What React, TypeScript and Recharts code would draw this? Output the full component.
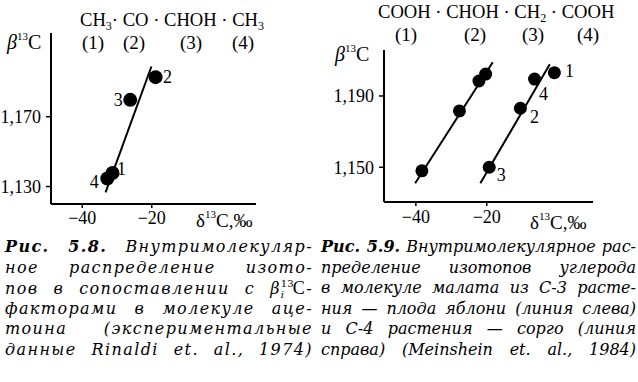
import React from "react"
import { ScatterChart, Scatter, XAxis, YAxis } from "recharts"

const serif = '"Liberation Serif", "DejaVu Serif", serif'
const captionFont = '"DejaVu Serif", "Liberation Serif", serif'

// positions of the carbon atoms in the molecule
const positions = ["1", "2", "3", "4"]
const positionLabels = ["(1)", "(2)", "(3)", "(4)"]

// Fig. 5.8 — acetoin
const acetoinDelta = [-31.3, -18.9, -26.2, -32.8]
const acetoinBeta = [1.1378, 1.1927, 1.1797, 1.1346]
const acetoinFitDelta = [-33.3, -20.1]
const acetoinFitBeta = [1.1267, 1.1988]

// Fig. 5.9 — malate, C-3 plant (apple, left line)
const appleDelta = [-38.3, -27.7, -22.2, -20.3]
const appleBeta = [1.148, 1.1816, 1.1984, 1.2023]
const appleFitDelta = [-40.2, -18.3]
const appleFitBeta = [1.141, 1.2089]

// Fig. 5.9 — malate, C-4 plant (sorghum, right line)
const sorghumDelta = [-0.9, -10.5, -19.3, -6.5]
const sorghumBeta = [1.2031, 1.1831, 1.15, 1.1995]
const sorghumFitDelta = [-21.8, -2.2]
const sorghumFitBeta = [1.141, 1.2078]

const xTicks = [-40, -20]
const acetoinTicks = [1.13, 1.17]
const malateTicks = [1.15, 1.19]

const toPoints = (xs: number[], ys: number[], names?: string[]) =>
  xs.map((x, i) => ({ x, y: ys[i], name: names ? names[i] : "" }))

const fmtX = (v: number) => (v < 0 ? "\u2212" + Math.abs(v) : String(v))
const fmtY = (v: number) => v.toFixed(3).replace(".", ",")

const acetoinOffsets: Record<string, number[]> = { "1": [9, -4], "2": [12, 0], "3": [-12, 0], "4": [-13, 3] }
const sorghumOffsets: Record<string, number[]> = { "1": [15, -2], "2": [14, 8], "3": [12, 7], "4": [9, 15] }

const makeDot = (r: number, offsets?: Record<string, number[]>) => (props: any) => {
  const { cx, cy, payload } = props
  const off = offsets ? offsets[payload.name] : null
  return (
    <g>
      <circle cx={cx} cy={cy} r={r} fill="#000" />
      {off && (
        <text x={cx + off[0]} y={cy + off[1]} dy="0.35em" textAnchor="middle" fontSize={18} fontFamily={serif} fill="#000">
          {payload.name}
        </text>
      )}
    </g>
  )
}

const noDot = () => <g />

const axisLine = { stroke: "#000", strokeWidth: 2 }
const tickLine = { stroke: "#000", strokeWidth: 1.5 }
const tickStyle = { fill: "#000", fontSize: 18, fontFamily: serif }

function DeltaName({ x, y }: { x: number; y: number }) {
  return (
    <text x={x} y={y} fontSize={19} fontFamily={serif} fill="#000">
      δ<tspan fontSize={11} dy={-9}>13</tspan>
      <tspan dy={9}>C,‰</tspan>
    </text>
  )
}

function BetaName({ x, y }: { x: number; y: number }) {
  return (
    <text x={x} y={y} fontSize={20} fontFamily={serif} fontStyle="italic" fill="#000">
      β<tspan fontSize={11} fontStyle="normal" dy={-9}>13</tspan>
      <tspan fontStyle="normal" dy={9}>C</tspan>
    </text>
  )
}

function AcetoinChart() {
  return (
    <ScatterChart width={320} height={240} margin={{ top: 33, right: 64, bottom: 0, left: 0 }}>
      <XAxis
        type="number"
        dataKey="x"
        domain={[-49, 10]}
        ticks={xTicks}
        allowDataOverflow
        tickFormatter={fmtX}
        tick={tickStyle}
        tickSize={4}
        tickMargin={3}
        axisLine={axisLine}
        tickLine={tickLine}
        height={36}
        label={{ content: () => <DeltaName x={196} y={227} /> }}
      />
      <YAxis
        type="number"
        dataKey="y"
        domain={[1.12, 1.218]}
        ticks={acetoinTicks}
        allowDataOverflow
        tickFormatter={fmtY}
        tick={tickStyle}
        tickSize={5}
        tickMargin={5}
        axisLine={axisLine}
        tickLine={tickLine}
        width={51}
        label={{ content: () => <BetaName x={7} y={49} /> }}
      />
      <Scatter data={toPoints(acetoinFitDelta, acetoinFitBeta)} line={{ stroke: "#000", strokeWidth: 2 }} shape={noDot} isAnimationActive={false} />
      <Scatter data={toPoints(acetoinDelta, acetoinBeta, positions)} shape={makeDot(7, acetoinOffsets)} isAnimationActive={false} />
    </ScatterChart>
  )
}

function MalateChart() {
  return (
    <ScatterChart width={320} height={240} margin={{ top: 50, right: 45, bottom: 0, left: 0 }}>
      <XAxis
        type="number"
        dataKey="x"
        domain={[-49, 10]}
        ticks={xTicks}
        allowDataOverflow
        tickFormatter={fmtX}
        tick={tickStyle}
        tickSize={4}
        tickMargin={4}
        axisLine={axisLine}
        tickLine={tickLine}
        height={38}
        label={{ content: () => <DeltaName x={212} y={229} /> }}
      />
      <YAxis
        type="number"
        dataKey="y"
        domain={[1.1305, 1.2158]}
        ticks={malateTicks}
        allowDataOverflow
        tickFormatter={fmtY}
        tick={tickStyle}
        tickSize={5}
        tickMargin={5}
        axisLine={axisLine}
        tickLine={tickLine}
        width={66}
        label={{ content: () => <BetaName x={17} y={61} /> }}
      />
      <Scatter data={toPoints(appleFitDelta, appleFitBeta)} line={{ stroke: "#000", strokeWidth: 2 }} shape={noDot} isAnimationActive={false} />
      <Scatter data={toPoints(sorghumFitDelta, sorghumFitBeta)} line={{ stroke: "#000", strokeWidth: 2 }} shape={noDot} isAnimationActive={false} />
      <Scatter data={toPoints(appleDelta, appleBeta)} shape={makeDot(6.5)} isAnimationActive={false} />
      <Scatter data={toPoints(sorghumDelta, sorghumBeta, positions)} shape={makeDot(6.5, sorghumOffsets)} isAnimationActive={false} />
    </ScatterChart>
  )
}

const acetoinNumX = [93, 134, 191, 243]
const malateNumX = [406, 475, 533, 588]

const leftCaption = [
  "ное распределение изото-",
  null,
  "факторами в молекуле аце-",
  "тоина (экспериментальные",
  "данные Rinaldi et. al., 1974)",
]
const rightCaption = [
  "пределение изотопов углерода",
  "в молекуле малата из С-3 расте-",
  "ния — плода яблони (линия слева)",
  "и С-4 растения — сорго (линия",
  "справа) (Meinshein et. al., 1984)",
]

const lineStyle: React.CSSProperties = {
  textAlign: "justify",
  textAlignLast: "justify",
  whiteSpace: "nowrap",
  height: 20.6,
  lineHeight: "20.6px",
}

const sub: React.CSSProperties = { fontSize: 12, verticalAlign: "-4px", lineHeight: 0 }

export default function App() {
  return (
    <div
      style={{
        position: "absolute",
        left: 0,
        top: 0,
        width: 638,
        height: 382,
        background: "#fff",
        overflow: "hidden",
        fontFamily: serif,
        color: "#000",
      }}
    >
      <div style={{ position: "absolute", left: 0, top: 0 }}>
        <AcetoinChart />
      </div>
      <div style={{ position: "absolute", left: 318, top: 0 }}>
        <MalateChart />
      </div>

      <div style={{ position: "absolute", left: 80, top: 8, fontSize: 18.6, whiteSpace: "nowrap", lineHeight: "24px" }}>
        CH<span style={sub}>3</span>· CO · CHOH · CH<span style={sub}>3</span>
      </div>
      {positionLabels.map((t, i) => (
        <div key={"a" + t} style={{ position: "absolute", left: acetoinNumX[i] - 20, width: 40, top: 31, textAlign: "center", fontSize: 19, lineHeight: "24px" }}>
          {t}
        </div>
      ))}
      <div style={{ position: "absolute", left: 378, top: 0, fontSize: 18.6, whiteSpace: "nowrap", lineHeight: "24px" }}>
        COOH · CHOH · CH<span style={sub}>2</span> · COOH
      </div>
      {positionLabels.map((t, i) => (
        <div key={"m" + t} style={{ position: "absolute", left: malateNumX[i] - 20, width: 40, top: 23, textAlign: "center", fontSize: 19, lineHeight: "24px" }}>
          {t}
        </div>
      ))}

      <div style={{ position: "absolute", left: 5, top: 237, width: 308, fontSize: 16, fontStyle: "italic", fontFamily: captionFont, letterSpacing: 1.4 }}>
        <div style={lineStyle}>
          <b>Рис. 5.8.</b> Внутримолекуляр-
        </div>
        {leftCaption.map((l, i) =>
          l === null ? (
            <div key={i} style={lineStyle}>
              пов в сопоставлении с β
              <span style={{ display: "inline-block", position: "relative", width: 12, height: 10, letterSpacing: 0 }}>
                <span style={{ position: "absolute", left: 0, top: -5, fontSize: 10, lineHeight: "10px", fontStyle: "normal" }}>13</span>
                <span style={{ position: "absolute", left: 0, top: 6, fontSize: 10, lineHeight: "10px" }}>i</span>
              </span>
              <span style={{ fontStyle: "normal", fontFamily: serif, fontSize: 18 }}>C</span>-
            </div>
          ) : (
            <div key={i} style={lineStyle}>
              {l}
            </div>
          )
        )}
      </div>

      <div style={{ position: "absolute", left: 321, top: 237, width: 315, fontSize: 16, fontStyle: "italic", fontFamily: captionFont }}>
        <div style={lineStyle}>
          <b>Рис. 5.9.</b> Внутримолекулярное рас-
        </div>
        {rightCaption.map((l, i) => (
          <div key={i} style={lineStyle}>
            {l}
          </div>
        ))}
      </div>
    </div>
  )
}
